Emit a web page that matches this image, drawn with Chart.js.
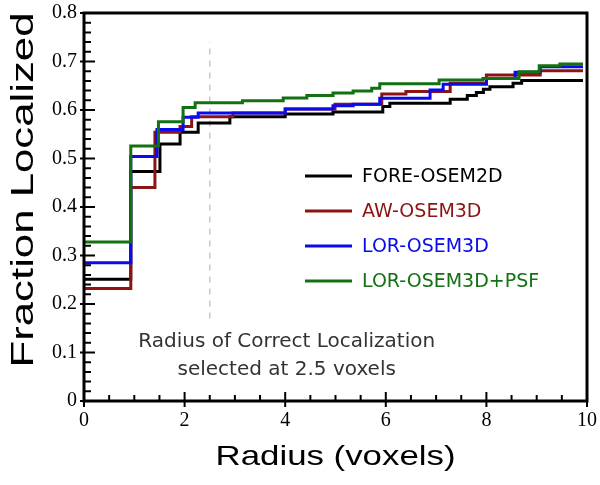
<!DOCTYPE html>
<html>
<head>
<meta charset="utf-8">
<script src="https://cdn.jsdelivr.net/npm/chart.js@4.4.1/dist/chart.umd.min.js"></script>
<style>
  html, body { margin: 0; padding: 0; background: #fff; }
  #wrap { width: 600px; height: 485px; }
</style>
</head>
<body>
<div id="wrap"><canvas id="lineChartloc"></canvas></div>
<script>
// step positions (voxels) and the fraction reached at each step
var foreX = [0, 0.93, 1.51, 1.91, 2.27, 2.9, 4.0, 4.95, 5.94, 6.08, 7.28, 7.62, 7.8, 7.94, 8.07, 8.53, 8.7, 9.92];
var foreY = [0.251, 0.473, 0.53, 0.554, 0.573, 0.586, 0.592, 0.596, 0.607, 0.614, 0.622, 0.63, 0.636, 0.643, 0.648, 0.655, 0.661, 0.661];

var awX = [0, 0.93, 1.41, 1.91, 2.14, 2.96, 4.0, 4.99, 5.92, 6.4, 7.28, 8.0, 9.07, 9.92];
var awY = [0.232, 0.44, 0.554, 0.566, 0.586, 0.594, 0.602, 0.612, 0.633, 0.638, 0.655, 0.672, 0.681, 0.681];

var lorX = [0, 0.93, 1.45, 1.97, 2.27, 4.0, 4.95, 5.35, 5.88, 6.88, 7.14, 8.0, 8.57, 9.07, 9.92];
var lorY = [0.285, 0.504, 0.56, 0.585, 0.594, 0.602, 0.609, 0.612, 0.624, 0.641, 0.653, 0.665, 0.678, 0.689, 0.689];

var psfX = [0, 0.93, 1.48, 1.97, 2.21, 3.15, 3.96, 4.43, 4.95, 5.35, 5.72, 5.88, 7.06, 7.93, 8.65, 9.05, 9.46, 9.92];
var psfY = [0.328, 0.526, 0.576, 0.605, 0.615, 0.619, 0.625, 0.63, 0.635, 0.639, 0.645, 0.654, 0.662, 0.665, 0.679, 0.691, 0.695, 0.695];

// dashed marker at the chosen radius
var cutoffX = [2.5, 2.5];
var cutoffY = [0.17, 0.74];

var seriesNames = ["FORE-OSEM2D", "AW-OSEM3D", "LOR-OSEM3D", "LOR-OSEM3D+PSF"];
var seriesColors = ["#000000", "#8c1414", "#0a0aee", "#137013"];
var noteLines = ["Radius of Correct Localization", "selected at 2.5 voxels"];
var xTitle = "Radius (voxels)";
var yTitle = "Fraction Localized";

function pts(xs, ys) {
  return xs.map(function (x, i) { return { x: x, y: ys[i] }; });
}

function stepSet(label, xs, ys, color) {
  return {
    label: label,
    data: pts(xs, ys),
    borderColor: color,
    borderWidth: 3,
    pointRadius: 0,
    stepped: true,
    fill: false,
  };
}

//frame, inner ticks, legend, note and axis titles
var extras = {
  id: "extras",
  afterDatasetsDraw: function (chart) {
    var ctx = chart.ctx;
    var a = chart.chartArea;
    var xs = chart.scales.x;
    var ys = chart.scales.y;
    ctx.save();

    ctx.strokeStyle = "#000";
    ctx.lineWidth = 3;
    ctx.strokeRect(a.left, a.top, a.right - a.left, a.bottom - a.top);

    ctx.lineWidth = 2;
    ctx.beginPath();
    for (var k = 0; k <= 20; k++) {
      var px = xs.getPixelForValue(k * 0.5);
      var major = k % 4 === 0;
      ctx.moveTo(px, a.bottom + (major ? 6 : 0));
      ctx.lineTo(px, a.bottom - (major ? 9 : 6));
    }
    for (var i = 0; i <= 40; i++) {
      var py = ys.getPixelForValue(i * 0.02);
      var maj = i % 5 === 0;
      ctx.moveTo(a.left - (maj ? 4 : 0), py);
      ctx.lineTo(a.left + (maj ? 11 : 7), py);
    }
    ctx.stroke();

    // legend
    ctx.font = "19px 'DejaVu Sans'";
    ctx.textBaseline = "middle";
    ctx.textAlign = "left";
    for (var j = 0; j < seriesNames.length; j++) {
      var ly = 176 + j * 35;
      ctx.strokeStyle = seriesColors[j];
      ctx.lineWidth = 3;
      ctx.beginPath();
      ctx.moveTo(305, ly);
      ctx.lineTo(352, ly);
      ctx.stroke();
      ctx.fillStyle = seriesColors[j];
      ctx.fillText(seriesNames[j], 362, ly + 1);
    }

    // note
    ctx.fillStyle = "#333";
    ctx.textAlign = "center";
    ctx.font = "20px 'DejaVu Sans'";
    var nx = xs.getPixelForValue(4.03);
    ctx.fillText(noteLines[0], nx, ys.getPixelForValue(0.122));
    ctx.fillText(noteLines[1], nx, ys.getPixelForValue(0.064));

    // axis titles (the original lettering is stretched a bit)
    ctx.fillStyle = "#000";
    ctx.font = "28px 'Liberation Sans'";
    ctx.save();
    ctx.translate((a.left + a.right) / 2, a.bottom + 56);
    ctx.scale(240 / ctx.measureText(xTitle).width, 1);
    ctx.fillText(xTitle, 0, 0);
    ctx.restore();

    ctx.font = "32px 'Liberation Sans'";
    ctx.save();
    ctx.translate(24, 190);
    ctx.rotate(-Math.PI / 2);
    ctx.scale(355 / ctx.measureText(yTitle).width, 1);
    ctx.fillText(yTitle, 0, 0);
    ctx.restore();

    ctx.restore();
  },
};

var ctxL = document.getElementById("lineChartloc").getContext("2d");
var myLineChart = new Chart(ctxL, {
  type: "line",
  data: {
    datasets: [
      stepSet(seriesNames[3], psfX, psfY, seriesColors[3]),
      stepSet(seriesNames[2], lorX, lorY, seriesColors[2]),
      stepSet(seriesNames[1], awX, awY, seriesColors[1]),
      stepSet(seriesNames[0], foreX, foreY, seriesColors[0]),
      {
        label: "cutoff",
        data: pts(cutoffX, cutoffY),
        borderColor: "#c8c8c8",
        borderWidth: 1.5,
        borderDash: [6, 6],
        pointRadius: 0,
        fill: false,
      },
    ],
  },
  options: {
    responsive: true,
    maintainAspectRatio: false,
    animation: false,
    layout: { padding: { top: 13, right: 13, left: 0, bottom: 0 } },
    plugins: {
      legend: { display: false },
      tooltip: { enabled: false },
    },
    scales: {
      x: {
        type: "linear",
        min: 0,
        max: 10,
        grid: { display: false, drawTicks: false },
        border: { display: false },
        ticks: {
          stepSize: 2,
          padding: 8,
          color: "#000",
          font: { family: "'Liberation Serif'", size: 20 },
        },
        afterFit: function (scale) {
          scale.height = 84;
          scale.paddingLeft = 0;
          scale.paddingRight = 0;
        },
      },
      y: {
        min: 0,
        max: 0.8,
        grid: { display: false, drawTicks: false },
        border: { display: false },
        ticks: {
          stepSize: 0.1,
          padding: 7,
          color: "#000",
          font: { family: "'Liberation Serif'", size: 20 },
        },
        afterFit: function (scale) {
          scale.width = 84;
          scale.paddingTop = 0;
          scale.paddingBottom = 0;
        },
      },
    },
  },
  plugins: [extras],
});
</script>
</body>
</html>
